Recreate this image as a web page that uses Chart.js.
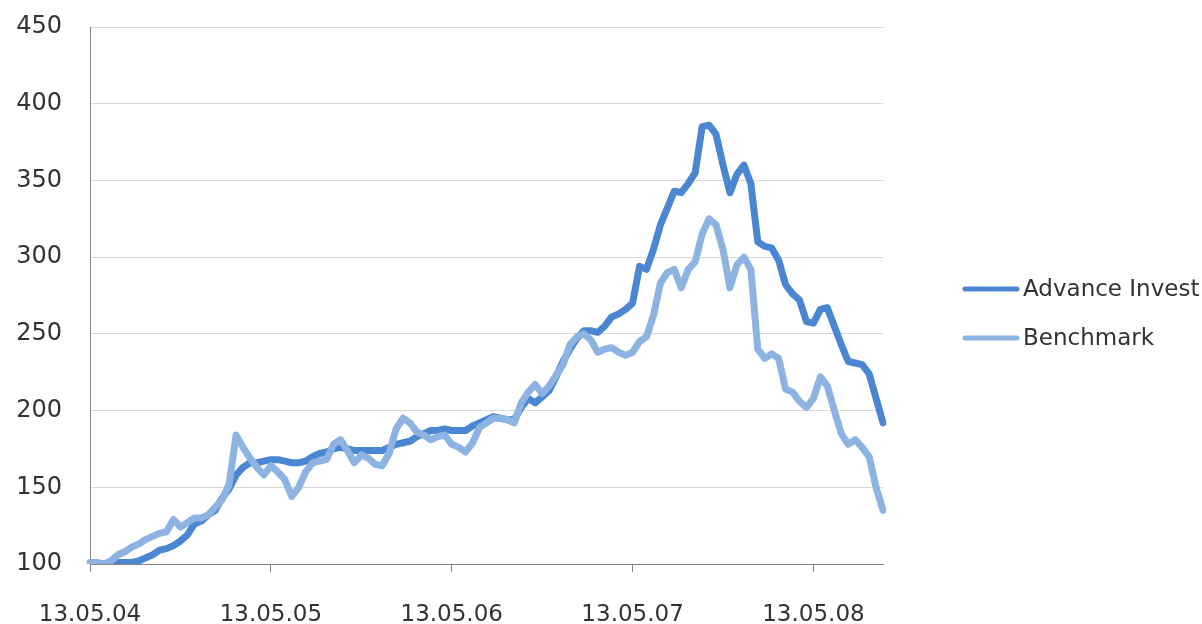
<!DOCTYPE html>
<html>
<head>
<meta charset="utf-8">
<script src="https://cdn.jsdelivr.net/npm/chart.js@4.4.1/dist/chart.umd.min.js"></script>
<style>
  html, body { margin: 0; padding: 0; background: #fff; }
  #wrap { width: 1202px; height: 624px; }
</style>
</head>
<body>
<div id="wrap"><canvas id="perfChart"></canvas></div>
<script>
// one value every two weeks, starting 13.05.04 (26 points per year)
const advanceInvest = [
    100, 100, 100, 100, 101, 101, 101, 102, 104, 106,
    109, 110, 112, 115, 119, 126, 128, 132, 135, 143,
    149, 158, 163, 166, 166, 167, 168, 168, 167, 166,
    166, 167, 170, 172, 173, 175, 176, 175, 174, 174,
    174, 174, 174, 176, 178, 179, 180, 183, 185, 187,
    187, 188, 187, 187, 187, 190, 192, 194, 196, 195,
    194, 194, 202, 208, 205, 209, 213, 222, 232, 240,
    247, 252, 252, 251, 255, 261, 263, 266, 270, 294,
    292, 305, 321, 332, 343, 342, 348, 355, 385, 386,
    380, 360, 342, 354, 360, 348, 310, 307, 306, 298,
    282, 276, 272, 258, 257, 266, 267, 255, 243, 232,
    231, 230, 224, 208, 192
];
const benchmark = [
    101, 101, 100, 102, 106, 108, 111, 113, 116, 118,
    120, 121, 129, 124, 127, 130, 130, 132, 137, 142,
    152, 184, 176, 169, 163, 158, 164, 160, 155, 144,
    150, 160, 166, 167, 168, 178, 181, 174, 166, 171,
    169, 165, 164, 172, 188, 195, 192, 186, 184, 181,
    183, 184, 178, 176, 173, 179, 189, 192, 195, 195,
    194, 192, 205, 212, 217, 211, 216, 223, 230, 243,
    248, 250, 246, 238, 240, 241, 238, 236, 238, 245,
    248, 262, 283, 290, 292, 280, 292, 297, 315, 325,
    321, 305, 280, 295, 300, 292, 240, 234, 237, 234,
    214, 212, 206, 202, 208, 222, 216, 200, 185, 178,
    181, 176, 170, 150, 135
];
const yearLabels = ['13.05.04', '13.05.05', '13.05.06', '13.05.07', '13.05.08'];
const pointsPerYear = 26;
const periods = advanceInvest.map((v, i) => i);

const FONT = '"DejaVu Sans", sans-serif';
const TEXT = '#333333';

// legend drawn to the right of the plot, Excel style
const sideLegend = {
    id: 'sideLegend',
    afterDraw(chart) {
        const ctx = chart.ctx;
        const x = chart.chartArea.right + 82;
        ctx.save();
        ctx.font = '23px ' + FONT;
        ctx.textBaseline = 'middle';
        ctx.fillStyle = TEXT;
        chart.data.datasets.forEach((ds, i) => {
            const y = 289 + i * 49;
            ctx.strokeStyle = ds.borderColor;
            ctx.lineWidth = 5;
            ctx.lineCap = 'round';
            ctx.beginPath();
            ctx.moveTo(x, y);
            ctx.lineTo(x + 52, y);
            ctx.stroke();
            ctx.fillText(ds.label, x + 58, y + 1);
        });
        ctx.restore();
    }
};

new Chart(document.getElementById('perfChart'), {
    type: 'line',
    data: {
        labels: periods,
        datasets: [{
            label: 'Advance Invest',
            data: advanceInvest,
            borderColor: '#4a86d2',
            borderWidth: 7,
            order: 1
        }, {
            label: 'Benchmark',
            data: benchmark,
            borderColor: '#8db3e2',
            borderWidth: 7,
            order: 0
        }]
    },
    options: {
        responsive: true,
        maintainAspectRatio: false,
        animation: false,
        layout: { padding: { left: 0, top: 27, right: 319, bottom: 0 } },
        elements: {
            point: { radius: 0 },
            line: { tension: 0, borderJoinStyle: 'round', borderCapStyle: 'round' }
        },
        plugins: {
            legend: { display: false },
            tooltip: { enabled: false }
        },
        scales: {
            x: {
                grid: { drawOnChartArea: false, drawTicks: true, tickLength: 8, color: '#868686' },
                border: { color: '#868686' },
                ticks: {
                    autoSkip: false,
                    maxRotation: 0,
                    padding: 29,
                    color: TEXT,
                    font: { family: FONT, size: 23 },
                    callback: (val, i) => i % pointsPerYear === 0 ? yearLabels[i / pointsPerYear] : null
                },
                afterFit: (scale) => {
                    scale.height = 60;
                    scale.paddingLeft = 0;
                    scale.paddingRight = 0;
                }
            },
            y: {
                min: 100,
                max: 450,
                grid: { color: '#d9d9d9', drawTicks: false },
                border: { color: '#868686' },
                ticks: {
                    stepSize: 50,
                    padding: 28,
                    color: TEXT,
                    font: { family: FONT, size: 24 }
                },
                afterFit: (scale) => {
                    scale.width = 90;
                    scale.paddingTop = 0;
                    scale.paddingBottom = 0;
                }
            }
        }
    },
    plugins: [sideLegend]
});
</script>
</body>
</html>
